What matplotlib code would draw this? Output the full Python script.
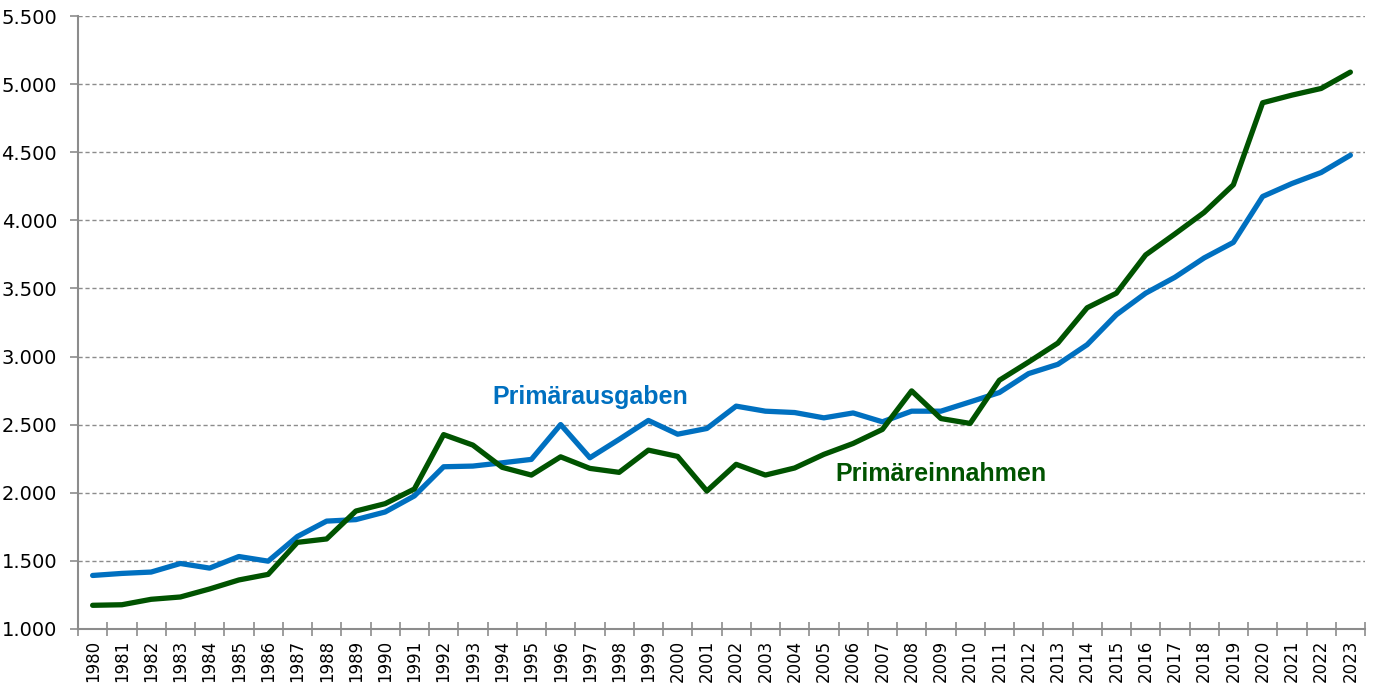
import numpy as np
import matplotlib
matplotlib.use("Agg")
import matplotlib.pyplot as plt
from matplotlib.ticker import FuncFormatter, FixedLocator

# ======================
# Daten
# ======================
jahre = list(range(1980, 2024))

primaerausgaben = [
    1393, 1408, 1418, 1481, 1447, 1532, 1498, 1679, 1792, 1803,
    1859, 1977, 2191, 2196, 2220, 2245, 2501, 2257, 2392, 2531,
    2430, 2472, 2636, 2599, 2589, 2550, 2586, 2521, 2599, 2599,
    2667, 2736, 2875, 2943, 3087, 3307, 3465, 3582, 3724, 3838,
    4175, 4270, 4351, 4478,
]

primaereinnahmen = [
    1174, 1178, 1218, 1235, 1294, 1360, 1401, 1636, 1661, 1866,
    1920, 2028, 2427, 2350, 2187, 2130, 2264, 2179, 2150, 2313,
    2267, 2013, 2209, 2130, 2182, 2282, 2362, 2465, 2748, 2545,
    2509, 2826, 2960, 3099, 3358, 3465, 3746, 3900, 4058, 4261,
    4863, 4919, 4968, 5088,
]

y_ticks = [1000, 1500, 2000, 2500, 3000, 3500, 4000, 4500, 5000, 5500]

blau = '#0070C0'
gruen = '#005300'
grau = '#8c8c8c'

fig = plt.figure(figsize=(13.75, 6.84), dpi=100)
ax = fig.add_axes([78 / 1375, 1 - 629 / 684, (1365 - 78) / 1375, (629 - 16) / 684])

x = np.arange(len(jahre))
ax.plot(x, primaerausgaben, color=blau, linewidth=3.8, solid_capstyle='round', zorder=3)
ax.plot(x, primaereinnahmen, color=gruen, linewidth=3.8, solid_capstyle='round', zorder=3)

# Achsen
ax.set_xlim(-0.5, len(jahre) - 0.5)
ax.set_ylim(1000, 5500)
ax.set_yticks(y_ticks)
ax.yaxis.set_major_formatter(FuncFormatter(lambda v, p: f"{int(v):,}".replace(",", ".")))
ax.grid(axis='y', color=grau, linestyle=(0, (3, 2)), linewidth=1.0, zorder=1)

ax.set_xticks(x)
ax.set_xticklabels([str(j) for j in jahre], rotation=90, fontsize=12,
                   family='DejaVu Sans Condensed')
ax.xaxis.set_minor_locator(FixedLocator(np.arange(-0.5, len(jahre), 1.0)))
ax.tick_params(axis='x', which='major', length=0, pad=8)
ax.tick_params(axis='x', which='minor', length=10, direction='inout', color=grau, width=1.2)
ax.tick_params(axis='y', which='major', length=6, direction='out', color=grau, width=1.2,
               labelsize=14, pad=9)

for s in ['top', 'right']:
    ax.spines[s].set_visible(False)
for s in ['left', 'bottom']:
    ax.spines[s].set_color(grau)
    ax.spines[s].set_linewidth(1.5)

# Beschriftungen
ax.text(17.0, 2700, 'Primärausgaben', color=blau, fontsize=18, fontweight='bold',
        family='Liberation Sans', ha='center', va='center')
ax.text(29.0, 2140, 'Primäreinnahmen', color=gruen, fontsize=18, fontweight='bold',
        family='Liberation Sans', ha='center', va='center')

fig.savefig('out.png', dpi=100)
